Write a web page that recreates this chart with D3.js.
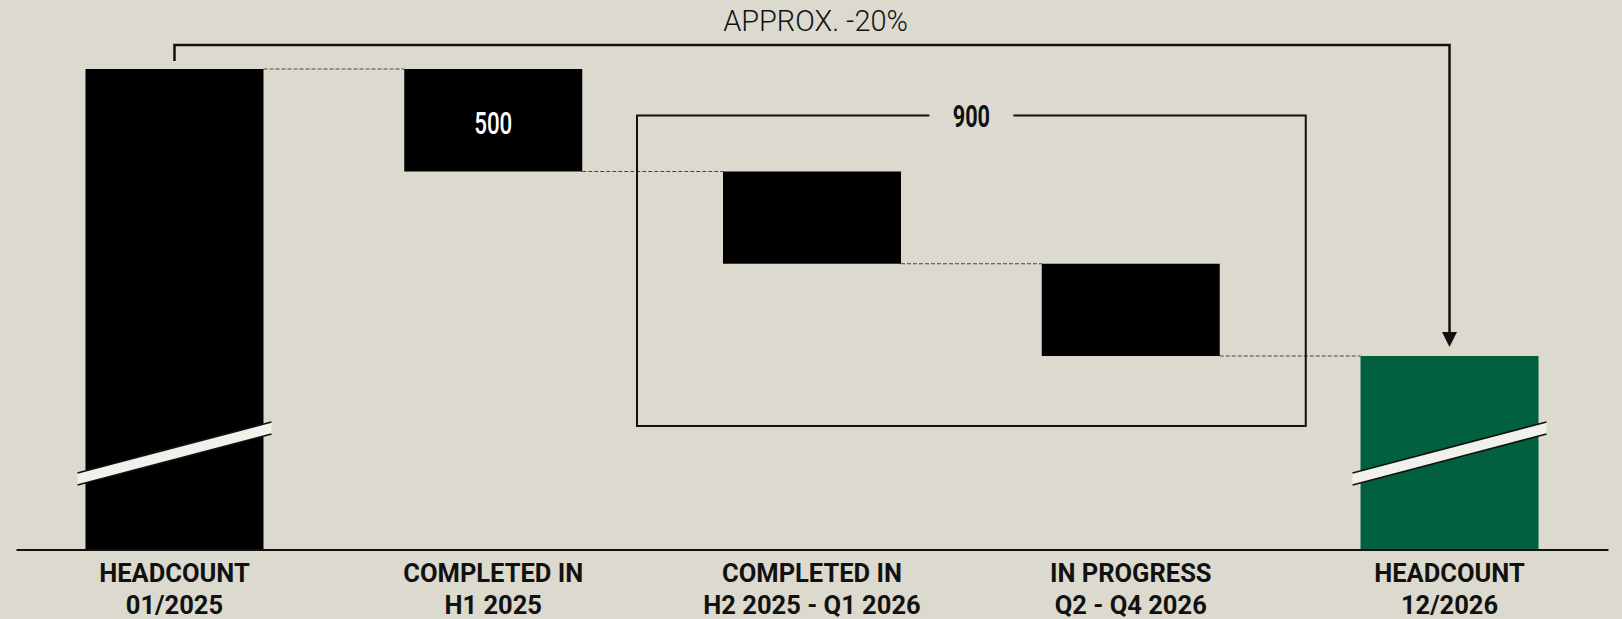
<!DOCTYPE html>
<html><head><meta charset="utf-8">
<script src="https://cdn.jsdelivr.net/npm/d3@7"></script>
<style>html,body{margin:0;padding:0;background:#dcdacf;} svg{display:block}</style>
</head><body><svg id="c" width="1622" height="619"></svg>
<script>
// ---- data ----
const categories = ["start", "h1_2025", "h2_2025_q1_2026", "q2_q4_2026", "end"];
const categoryLines = [
  ["HEADCOUNT", "01/2025"],
  ["COMPLETED IN", "H1 2025"],
  ["COMPLETED IN", "H2 2025 - Q1 2026"],
  ["IN PROGRESS", "Q2 - Q4 2026"],
  ["HEADCOUNT", "12/2026"]
];
const startHeadcount = 7000;
const reductions = [500, 450, 450];
const reductionLabels = ["500", "", ""];
const groupedLabel = "900";
const changeLabel = "APPROX. -20%";
const axisFloor = 4656; // value shown at the baseline (axis is broken)

// ---- build waterfall ----
const bars = [];
bars.push({cat: categories[0], lo: axisFloor, hi: startHeadcount, type: "total", label: ""});
let level = startHeadcount;
reductions.forEach((r, i) => {
  bars.push({cat: categories[i + 1], lo: level - r, hi: level, type: "step", label: reductionLabels[i]});
  level -= r;
});
bars.push({cat: categories[4], lo: axisFloor, hi: level, type: "end", label: ""});

const W = 1622, H = 619;
const svg = d3.select("#c");
const BG = "#dcdacf";
svg.append("rect").attr("width", W).attr("height", H).attr("fill", BG);

const x = d3.scaleBand().domain(categories).range([16, 1608]).paddingInner(0.4416).paddingOuter(0.218);
const y = d3.scaleLinear().domain([axisFloor, startHeadcount]).range([549.5, 69]);
const bw = x.bandwidth();

function squeeze(sel, sx) {
  sel.each(function () {
    const t = d3.select(this);
    const tx = +t.attr("x"), ty = +t.attr("y");
    t.attr("x", 0).attr("y", 0).attr("transform", `translate(${tx},${ty}) scale(${sx},1)`);
  });
}

// dashed connectors
const conn = svg.append("g");
for (let i = 0; i < bars.length - 1; i++) {
  const a = bars[i], b = bars[i + 1];
  const yy = a.type === "step" ? y(a.lo) : y(a.hi);
  conn.append("line")
    .attr("x1", x(a.cat) + bw).attr("x2", x(b.cat))
    .attr("y1", yy).attr("y2", yy)
    .attr("stroke", i === 0 ? "#7a7872" : "#444").attr("stroke-width", i === 0 ? 1.6 : 1)
    .attr("stroke-dasharray", "4,2");
}

// grouped box around last two steps
const gA = bars[2], gB = bars[3];
const boxL = x(gA.cat) - 86, boxR = x(gB.cat) + bw + 86;
const boxT = y(gA.hi) - 56, boxB = y(gB.lo) + 70;
const boxCx = (boxL + boxR) / 2;
svg.append("rect").attr("x", boxL).attr("y", boxT).attr("width", boxR - boxL).attr("height", boxB - boxT)
  .attr("fill", "none").attr("stroke", "#111").attr("stroke-width", 2);
svg.append("rect").attr("x", boxCx - 42).attr("y", boxT - 18).attr("width", 84).attr("height", 38)
  .attr("fill", "#dddbd1");
svg.append("text").attr("x", boxCx).attr("y", boxT + 11.5).attr("text-anchor", "middle")
  .attr("font-family", "Roboto").attr("font-weight", 700).attr("font-size", 31).attr("fill", "#111")
  .text(groupedLabel).call(squeeze, 0.7);

// bars
svg.append("g").selectAll("rect").data(bars).join("rect")
  .attr("x", d => x(d.cat)).attr("width", bw)
  .attr("y", d => y(d.hi)).attr("height", d => y(d.lo) - y(d.hi))
  .attr("fill", d => d.type === "end" ? "#01603f" : "#000");

// value labels
svg.append("g").selectAll("text").data(bars.filter(d => d.label)).join("text")
  .attr("x", d => x(d.cat) + bw / 2).attr("y", d => (y(d.lo) + y(d.hi)) / 2 + 14)
  .attr("text-anchor", "middle").attr("font-family", "Roboto").attr("font-weight", 500)
  .attr("font-size", 31).attr("fill", "#fff").text(d => d.label).call(squeeze, 0.72);

// axis breaks on total bars
const base = y(axisFloor);
bars.filter(d => d.type !== "step").forEach(d => {
  const xl = x(d.cat) - 8, xr = x(d.cat) + bw + 8;
  const yl = base - 70.5, yr = base - 121.5, h = 6;
  svg.append("polygon")
    .attr("points", `${xl},${yl - h} ${xr},${yr - h} ${xr},${yr + h} ${xl},${yl + h}`)
    .attr("fill", "#f1f1eb");
  [-h, h].forEach(o => svg.append("line").attr("x1", xl).attr("y1", yl + o).attr("x2", xr).attr("y2", yr + o)
    .attr("stroke", "#111").attr("stroke-width", 1.6));
});

// axis
const axis = svg.append("g").attr("transform", `translate(0,${base})`)
  .call(d3.axisBottom(x).tickSize(0).tickSizeOuter(0).tickFormat(""));
axis.select(".domain").attr("stroke", "#111").attr("stroke-width", 2);
axis.selectAll(".tick text").remove();
axis.selectAll(".tick").each(function (d, i) {
  const g = d3.select(this);
  categoryLines[i].forEach((ln, j) => {
    g.append("text").attr("x", 0).attr("y", 32.5 + j * 32.3).attr("text-anchor", "middle")
      .attr("font-family", "Roboto").attr("font-weight", 700).attr("font-size", 25.5)
      .attr("fill", "#111").text(ln).call(squeeze, 1.0);
  });
});

// -20% bracket arrow
const sx0 = x(bars[0].cat) + bw / 2, sx1 = x(bars[4].cat) + bw / 2;
const topY = 45;
svg.append("path")
  .attr("d", `M${sx0},${y(bars[0].hi) - 8} V${topY} H${sx1} V${y(bars[4].hi) - 22}`)
  .attr("fill", "none").attr("stroke", "#111").attr("stroke-width", 2.5);
const tipY = y(bars[4].hi) - 9;
svg.append("path").attr("d", `M${sx1 - 7.5},${tipY - 15} L${sx1 + 7.5},${tipY - 15} L${sx1},${tipY} Z`).attr("fill", "#111");
svg.append("text").attr("x", (sx0 + sx1) / 2 + 3.5).attr("y", 30.5).attr("text-anchor", "middle")
  .attr("font-family", "Roboto").attr("font-weight", 300).attr("font-size", 29.5).attr("fill", "#111")
  .text(changeLabel).call(squeeze, 0.98);
</script></body></html>
